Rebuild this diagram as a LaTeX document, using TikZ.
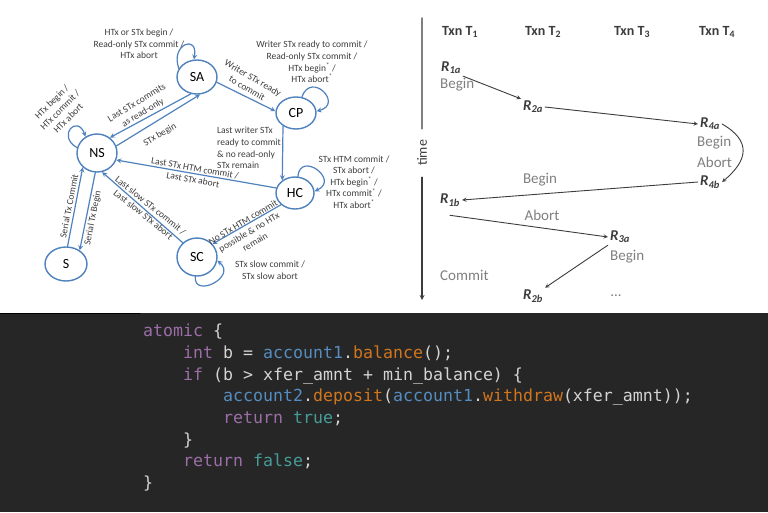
\documentclass[tikz,border=0pt]{standalone}
\usepackage{fontspec}
\setmainfont{Carlito}
\newfontfamily\codefont{DejaVu Sans Mono}
\usetikzlibrary{shapes.geometric}
\definecolor{stblue}{HTML}{4F81BD}
\definecolor{txtdark}{HTML}{3C3C3C}
\definecolor{tlgray}{HTML}{7F7F7F}
\definecolor{codebg}{HTML}{262626}
\definecolor{codetxt}{HTML}{D4D4D4}
\definecolor{codekw}{HTML}{9B6EA8}
\definecolor{codeobj}{HTML}{568DC0}
\definecolor{codefn}{HTML}{D2761E}
\definecolor{codelit}{HTML}{469C97}
\newcommand\ckw[1]{\textcolor{codekw}{#1}}
\newcommand\cobj[1]{\textcolor{codeobj}{#1}}
\newcommand\cfn[1]{\textcolor{codefn}{#1}}
\newcommand\clit[1]{\textcolor{codelit}{#1}}
\begin{document}
\begin{tikzpicture}[x=1pt,y=-1pt, >=stealth, line join=round, line cap=round,
    font=\fontsize{9.5}{11.6}\selectfont,
    stnode/.style={ellipse, draw=stblue, line width=1.4pt, fill=white, minimum width=40pt, minimum height=34pt, inner sep=0pt, text=black, font=\fontsize{14}{14}\selectfont},
    tr/.style={->, draw=stblue, line width=1.2pt},
    lbl/.style={align=center, inner sep=0pt, text=txtdark},
    head/.style={font=\bfseries\fontsize{14}{14}\selectfont, text=txtdark},
    rn/.style={font=\bfseries\itshape\fontsize{15}{15}\selectfont, text=txtdark, inner sep=2pt},
    ev/.style={font=\fontsize{15}{17}\selectfont, text=tlgray, inner sep=0pt},
    tl/.style={->, draw=txtdark, line width=0.9pt},
    code/.style={anchor=base west, inner sep=0pt, text=codetxt, font=\codefont\fontsize{16.6}{20}\selectfont}]
    \useasboundingbox (0,0) rectangle (768,512);
    \node[stnode] (SA) at (197,77) {SA};
    \node[stnode, minimum height=32pt] (CP) at (296,113) {CP};
    \node[stnode, minimum height=38pt] (NS) at (97,153) {NS};
    \node[stnode, minimum width=38pt, minimum height=32pt] (HC) at (295,193) {HC};
    \node[stnode, minimum width=42pt] (S) at (66,264) {S};
    \node[stnode, minimum height=38pt] (SC) at (197,257) {SC};
    \draw[tr] (SA.250) -- (NS.50);
    \draw[tr] (NS.20) -- (SA.280);
    \draw[tr] (SA.-15) -- (CP.175);
    \draw[tr] (CP.225) -- (HC.135);
    \draw[tr] (HC.165) -- (NS.-20);
    \draw[tr] (HC.220) -- (SC.40);
    \draw[tr] (SC.135) -- (NS.-75);
    \draw[tr] (S.85) -- (NS.225);
    \draw[tr] (NS.265) -- (S.45);
    \draw[tr] (SA.155) .. controls +(110:26pt) and +(80:26pt) .. (SA.100);
    \draw[tr] (CP.70) .. controls +(70:28pt) and +(15:28pt) .. (CP.5);
    \draw[tr] (NS.165) .. controls +(150:24pt) and +(110:24pt) .. (NS.125);
    \draw[tr] (HC.80) .. controls +(85:26pt) and +(25:28pt) .. (HC.5);
    \draw[tr] (SC.265) .. controls +(265:22pt) and +(320:26pt) .. (SC.-10);
    \node[lbl] (lSA) at (139,44) {HTx or STx begin /\\Read-only STx commit /\\HTx abort};
    \node[lbl] (lCP) at (312,62) {Writer STx ready to commit /\\Read-only STx commit /\\HTx begin\textsuperscript{*} /\\HTx abort\textsuperscript{*}};
    \node[lbl, rotate=45] (lNS) at (60,110) {HTx begin /\\HTx commit /\\HTx abort};
    \node[lbl, rotate=31] (lRO) at (140,108) {Last STx commits\\as read-only};
    \node[lbl, rotate=30] (lSB) at (160,135) {STx begin};
    \node[lbl, rotate=-30] (lWR) at (250,83) {Writer STx ready\\to commit};
    \node[lbl, align=left, anchor=west] (lLW) at (217,148) {Last writer STx\\ready to commit\\\& no read-only\\STx remain};
    \node[lbl] (lHC) at (354,182) {STx HTM commit /\\STx abort /\\HTx begin\textsuperscript{*} /\\HTx commit\textsuperscript{*} /\\HTx abort\textsuperscript{*}};
    \node[lbl, rotate=-10] (lHN) at (194,174) {Last STx HTM commit /\\Last STx abort};
    \node[lbl, rotate=31] (lHS) at (249,232) {No STx HTM commit\\possible \& no HTx\\remain};
    \node[lbl] (lSC) at (270,270) {STx slow commit /\\STx slow abort};
    \node[lbl, rotate=-39] (lSN) at (147,210) {Last slow STx commit /\\Last slow STx abort};
    \node[lbl, rotate=79] (lST) at (69,206) {Serial Tx Commit};
    \node[lbl, rotate=79] (lSG) at (93,218) {Serial Tx Begin};
    \coordinate (axtop) at (422,18);
    \coordinate (axbot) at (422,300);
    \node[rotate=90, text=txtdark, font=\fontsize{14}{14}\selectfont, inner xsep=11pt, inner ysep=0pt] (time) at (422,153) {time};
    \draw[tlgray, line width=1.4pt] (axtop) -- (time.east);
    \draw[->, txtdark, line width=1.2pt] (time.west) -- (axbot);
    \foreach \i/\x in {1/460,2/543,3/632,4/717}
        \node[head] (T\i) at (\x,32) {Txn T\textsubscript{\i}};
    \node[rn] (R1a) at (451,68) {R\textsubscript{1a}};
    \node[ev, anchor=west] (B1) at (440,85) {Begin};
    \node[rn] (R2a) at (533,107) {R\textsubscript{2a}};
    \node[rn] (R4a) at (710,124) {R\textsubscript{4a}};
    \node[ev, anchor=west] (B4) at (697,143) {Begin};
    \node[ev, anchor=west] (A4) at (697,162) {Abort};
    \node[rn] (R4b) at (710,182) {R\textsubscript{4b}};
    \node[rn] (R1b) at (450,200) {R\textsubscript{1b}};
    \node[rn] (R3a) at (620,237) {R\textsubscript{3a}};
    \node[ev, anchor=west] (B3) at (610,257) {Begin};
    \node[rn] (R2b) at (533,296) {R\textsubscript{2b}};
    \node[ev, anchor=west] (C1) at (440,275) {Commit};
    \node[ev] (dots) at (616,296) {...};
    \node[ev] (lB) at (540,180) {Begin};
    \node[ev] (lA) at (542,215) {Abort};
    \draw[tl] (R1a.south east) -- (R2a.north west);
    \draw[tl] (R2a.east) -- (R4a.west);
    \draw[tl] (R4a.east) to[out=-30, in=40, looseness=1.5] (R4b.east);
    \draw[tl] (R4b.west) -- (R1b.east);
    \draw[tl] ([yshift=-7pt]R1b.south) -- (R3a.west);
    \draw[tl] (R3a.south west) -- (R2b.north east);
    \fill[codebg] (0,313) rectangle (768,512);
    \draw[black, line width=1pt] (0,313) -- (140,313);
    \node[code] (c1) at (143,336) {\ckw{atomic} \{};
    \node[code] (c2) at (183,358) {\ckw{int} b = \cobj{account1}.\cfn{balance}();};
    \node[code] (c3) at (183,380) {\ckw{if} (b > xfer\_amnt + min\_balance) \{};
    \node[code] (c4) at (223,401) {\cobj{account2}.\cfn{deposit}(\cobj{account1}.\cfn{withdraw}(xfer\_amnt));};
    \node[code] (c5) at (223,423) {\ckw{return} \clit{true};};
    \node[code] (c6) at (183,445) {\}};
    \node[code] (c7) at (183,466) {\ckw{return} \clit{false};};
    \node[code] (c8) at (143,488) {\}};
\end{tikzpicture}
\end{document}
